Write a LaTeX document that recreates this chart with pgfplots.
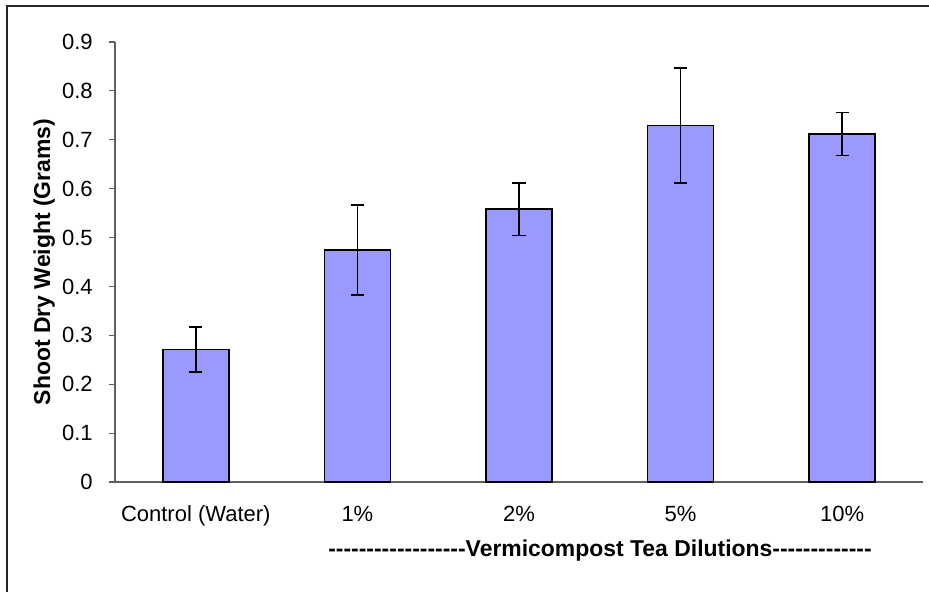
\documentclass[border=0pt]{standalone}
\usepackage{fontspec}
\setmainfont[Ligatures=TeXOff]{Liberation Sans}
\usepackage{pgfplots}
\pgfplotsset{compat=1.18}
\definecolor{barblue}{HTML}{9999FF}
\definecolor{axisgray}{HTML}{606060}
\newcommand\chartfont{\fontsize{16.5}{19}\selectfont}
\newcommand\labelfont{\fontsize{17.2}{20}\selectfont\bfseries}
\begin{document}
\begin{tikzpicture}
\useasboundingbox (0,0) rectangle (696.75pt,444pt);
\draw[line width=0.8pt, black!85] (5.25pt,0) -- (5.25pt,439.5pt) -- (696.75pt,439.5pt);
\begin{axis}[
  at={(86.25pt,82.5pt)}, anchor=south west,
  scale only axis, width=606pt, height=330pt,
  xmin=-0.5, xmax=4.5, ymin=0, ymax=0.9,
  axis lines=left, axis line style={-, axisgray, line width=0.8pt},
  tick align=outside, tick style={axisgray, line width=0.8pt},
  ytick={0,0.1,...,0.9},
  yticklabels={0,0.1,0.2,0.3,0.4,0.5,0.6,0.7,0.8,0.9},
  major tick length=4.5pt,
  xtick={0,1,2,3,4},
  xticklabels={Control (Water),1\%,2\%,5\%,10\%},
  x tick style={draw=none},
  extra x ticks={-0.5,0.5,1.5,2.5,3.5,4.5},
  extra x tick labels={},
  extra x tick style={tick style={axisgray, line width=0.8pt, draw}, major tick length=4.5pt},
  tick label style={font=\chartfont},
  xticklabel style={anchor=base, yshift=-25.5pt},
  yticklabel style={anchor=east, inner sep=0pt, xshift=-12pt},
  label style={font=\labelfont},
  ylabel={Shoot Dry Weight (Grams)},
  ylabel style={at={(axis description cs:0,0.5)}, anchor=center, yshift=53pt},
  xlabel={------------------Vermicompost Tea Dilutions-------------},
  xlabel style={at={(axis description cs:0.5,0)}, anchor=base, xshift=60.75pt, yshift=-56.25pt},
  clip=false,
]
\addplot[ybar, bar width=49.5pt, fill=barblue, draw=black, line width=1.2pt,
  error bars/.cd, y dir=both, y explicit,
  error bar style={black, line width=1.2pt},
  error mark options={black, line width=1.2pt, mark size=4.9pt, rotate=90}]
  coordinates {
  (0,0.271) +- (0,0.046)
  (1,0.474) +- (0,0.092)
  (2,0.558) +- (0,0.054)
  (3,0.729) +- (0,0.118)
  (4,0.712) +- (0,0.044)
};
\end{axis}
\end{tikzpicture}
\end{document}
